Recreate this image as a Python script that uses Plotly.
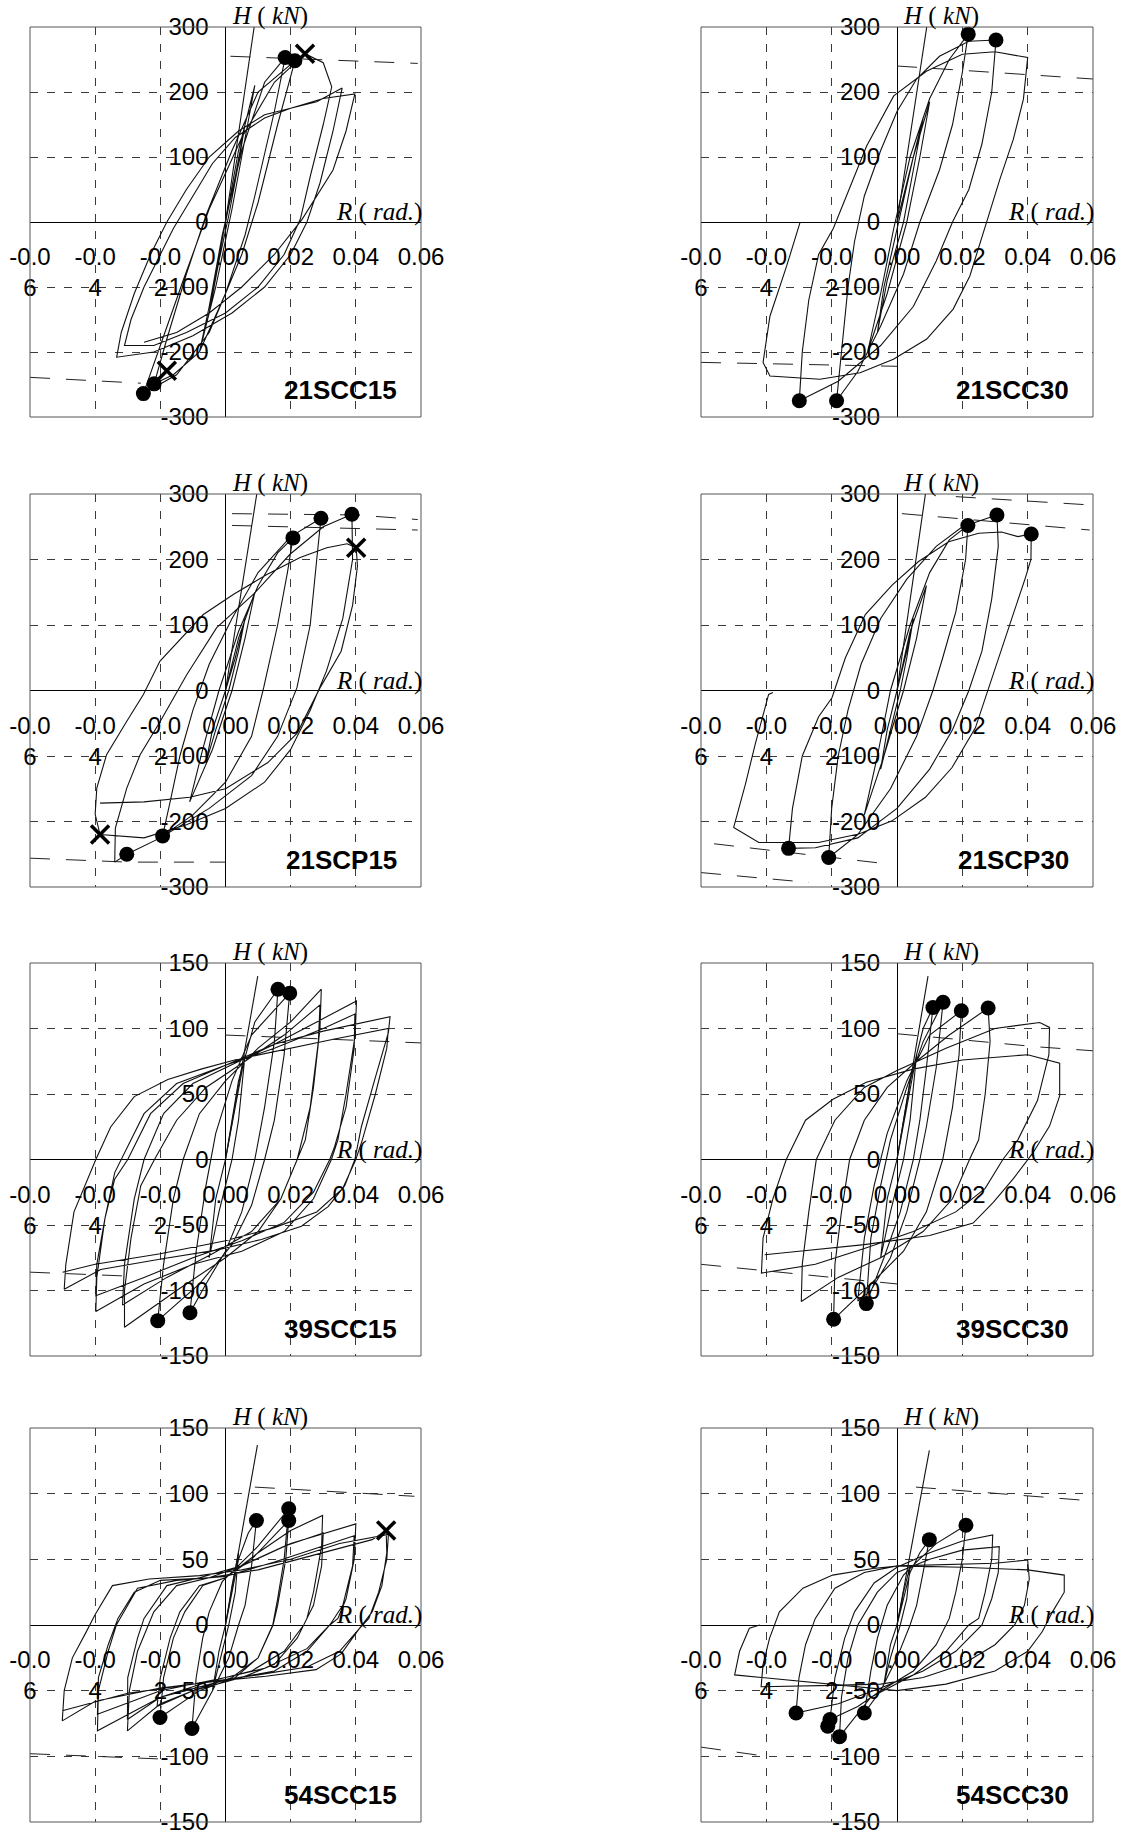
import plotly.graph_objects as go

# ---------------- data ----------------
PANEL_NAMES = ["21SCC15", "21SCC30", "21SCP15", "21SCP30",
               "39SCC15", "39SCC30", "54SCC15", "54SCC30"]
H_LIMITS = [300, 300, 300, 300, 150, 150, 150, 150]

X_TICKS = [-0.06, -0.04, -0.02, 0.0, 0.02, 0.04, 0.06]
X_TICKTEXT = ["-0.0<br>6", "-0.0<br>4", "-0.0<br>2", "0.00", "0.02", "0.04", "0.06"]
Y_TICKS_300 = [-300, -200, -100, 0, 100, 200, 300]
Y_TICKTEXT_300 = ["-300", "-200", "-100", "0", "100", "200", "300"]
Y_TICKS_150 = [-150, -100, -50, 0, 50, 100, 150]
Y_TICKTEXT_150 = ["-150", "-100", "-50", "0", "50", "100", "150"]

# ---- 21SCC15 ----
R_21SCC15 = [0, 0.003, 0.006, 0.004, 0.001, -0.002, -0.005, -0.003, 0.0,
             0.004, 0.009, 0.006, 0.002, -0.003, -0.008, -0.005, -0.001,
             0.005, 0.012, 0.0183,
             0.015, 0.009, 0.006, 0.0, -0.008, -0.016, -0.0219,
             -0.018, -0.012, -0.006, 0.002, 0.01, 0.0213,
             0.016, 0.010, 0.005, -0.005, -0.015, -0.0252,
             -0.020, -0.013, -0.005, 0.005, 0.015, 0.0244,
             0.030, 0.0326,
             0.030, 0.026, 0.023, 0.018, 0.010, 0.0, -0.012, -0.022, -0.031,
             -0.029, -0.025, -0.020, -0.016, -0.010, -0.004, 0.003, 0.012, 0.020, 0.028, 0.0358,
             0.033, 0.029, 0.025, 0.020, 0.012, 0.002, -0.010, -0.022, -0.0334,
             -0.032, -0.028, -0.023, -0.018, -0.012, -0.005, 0.004, 0.012, 0.020, 0.030, 0.0397,
             0.037, 0.033, 0.0235, 0.015, 0.005, -0.005, -0.015, -0.025]
H_21SCC15 = [0, 70, 150, 90, 10, -60, -140, -80, 0,
             110, 210, 130, 20, -100, -200, -130, -20,
             110, 215, 253,
             170, 40, -20, -110, -200, -235, -249,
             -180, -80, 10, 110, 200, 248,
             150, 30, -50, -170, -235, -264,
             -190, -90, 20, 130, 215, 259,
             245, 208,
             150, 70, 5, -50, -100, -140, -170, -190, -190,
             -150, -100, -50, -10, 40, 90, 130, 160, 175, 185, 206,
             140, 60, 0, -50, -100, -140, -175, -200, -208,
             -170, -110, -50, 0, 50, 100, 140, 165, 175, 190, 197,
             140, 80, 4, -50, -100, -140, -170, -185]
DOT_R_21SCC15 = [0.0183, 0.0213, -0.0252, -0.0219]
DOT_H_21SCC15 = [253, 248, -264, -249]
CROSS_R_21SCC15 = [0.0244, -0.018]
CROSS_H_21SCC15 = [259, -229]
ELASTIC_R_21SCC15 = [0.0, 0.0088]
ELASTIC_H_21SCC15 = [0, 300]
STRENGTH_21SCC15 = [([0.0015, 0.03, 0.059], [255, 250, 244]),
                    ([-0.06, -0.026], [-239, -248])]

# ---- 21SCC30 ----
R_21SCC30 = [0, 0.004, 0.008, 0.005, 0.002, -0.003, -0.006, -0.004, 0.0,
             0.005, 0.010, 0.007, 0.003, -0.003, -0.009, -0.005, -0.001,
             0.004, 0.010, 0.016, 0.0218,
             0.020, 0.017, 0.013, 0.007, 0.002, -0.005, -0.012, -0.0185,
             -0.017, -0.015, -0.013, -0.010, -0.005, 0.0, 0.006, 0.013, 0.022, 0.0303,
             0.029, 0.026, 0.022, 0.017, 0.012, 0.005, -0.005, -0.018, -0.0299,
             -0.029, -0.027, -0.024, -0.0195, -0.0144, -0.0093, -0.001, 0.009, 0.020, 0.030, 0.040,
             0.0387, 0.0356, 0.0315, 0.028, 0.0223, 0.0172, 0.0091, -0.0011, -0.0113, -0.0236, -0.0389, -0.041,
             -0.0389, -0.0338, -0.0297]
H_21SCC30 = [0, 80, 160, 80, 0, -90, -170, -100, -10,
             100, 185, 100, 0, -110, -200, -110, -10,
             100, 190, 250, 289,
             230, 150, 80, 0, -80, -160, -230, -275,
             -200, -100, -30, 40, 110, 170, 220, 255, 278, 280,
             200, 120, 50, 0, -60, -130, -190, -245, -275,
             -200, -120, -50, -10, 55, 117, 194, 232, 258, 262, 253,
             189, 127, 66, 9, -83, -134, -180, -211, -232, -242, -237, -216,
             -145, -68, -1]
DOT_R_21SCC30 = [0.0218, 0.0303, -0.0299, -0.0185]
DOT_H_21SCC30 = [289, 280, -275, -275]
CROSS_R_21SCC30 = []
CROSS_H_21SCC30 = []
ELASTIC_R_21SCC30 = [0.0, 0.0091]
ELASTIC_H_21SCC30 = [0, 300]
STRENGTH_21SCC30 = [([0.0, 0.015, 0.043, 0.06], [240, 235, 225, 220]),
                    ([-0.06, -0.03, 0.0], [-216, -219, -222])]

# ---- 21SCP15 ----
R_21SCP15 = [0, 0.003, 0.006, 0.004, 0.001, -0.003, -0.006, -0.004, 0.0,
             0.004, 0.009, 0.006, 0.002, -0.004, -0.011, -0.007, -0.002,
             0.004, 0.010, 0.016, 0.0207,
             0.019, 0.016, 0.0117, 0.008, 0.0, -0.010, -0.0193,
             -0.017, -0.014, -0.010, -0.005, 0.002, 0.010, 0.020, 0.0293,
             0.028, 0.026, 0.0219, 0.016, 0.008, -0.005, -0.020, -0.0303, -0.034,
             -0.0338, -0.0303, -0.0262, -0.020, -0.0119, -0.0027, 0.0086, 0.0198, 0.030, 0.0388,
             0.039, 0.036, 0.031, 0.026, 0.020, 0.012, 0.0, -0.012, -0.025, -0.0385,
             -0.040, -0.0395, -0.0365, -0.0303, -0.0252, -0.0201, -0.0068, 0.0025, 0.0127, 0.0229, 0.0311, 0.0373, 0.0401,
             0.0405, 0.039, 0.0355, 0.029, 0.022, 0.013, 0.0, -0.011, -0.025, -0.0385]
H_21SCP15 = [0, 50, 110, 60, 0, -60, -110, -60, 0,
             80, 150, 80, 0, -90, -170, -90, 0,
             90, 160, 210, 233,
             180, 100, 4, -70, -140, -190, -222,
             -170, -100, -30, 40, 110, 180, 235, 263,
             200, 100, 4, -70, -130, -180, -225, -250, -262,
             -210, -149, -98, -47, 24, 96, 147, 208, 250, 269,
             200, 110, 30, -30, -90, -140, -180, -205, -225, -220,
             -189, -149, -98, -47, -6, 45, 116, 147, 177, 203, 218, 224, 218,
             190, 130, 60, 4, -65, -110, -150, -163, -170, -172]
DOT_R_21SCP15 = [0.0207, 0.0293, 0.0388, -0.0303, -0.0193]
DOT_H_21SCP15 = [233, 263, 269, -250, -222]
CROSS_R_21SCP15 = [0.0401, -0.0385]
CROSS_H_21SCP15 = [218, -220]
ELASTIC_R_21SCP15 = [0.0, 0.0096]
ELASTIC_H_21SCP15 = [0, 300]
STRENGTH_21SCP15 = [([0.002, 0.04, 0.059], [270, 268, 261]),
                    ([0.002, 0.059], [252, 245]),
                    ([-0.06, -0.03, 0.0], [-256, -262, -262])]

# ---- 21SCP30 ----
R_21SCP30 = [0, 0.003, 0.005, 0.003, 0.001, -0.002, -0.005, -0.003, 0.0,
             0.004, 0.009, 0.006, 0.002, -0.004, -0.010, -0.006, -0.002,
             0.004, 0.010, 0.016, 0.0217,
             0.021, 0.018, 0.014, 0.011, 0.006, -0.002, -0.012, -0.0209,
             -0.020, -0.018, -0.015, -0.011, -0.005, 0.003, 0.012, 0.020, 0.0306,
             0.031, 0.029, 0.026, 0.022, 0.017, 0.010, 0.0, -0.012, -0.025, -0.0332,
             -0.032, -0.029, -0.024, -0.0199, -0.0158, -0.0097, -0.0015, 0.0066, 0.0158, 0.025, 0.032, 0.037, 0.0411,
             0.041, 0.0393, 0.0352, 0.0301, 0.028, 0.024, 0.0168, 0.0087, -0.0015, -0.0117, -0.024, -0.0423, -0.050,
             -0.0464, -0.0434, -0.0393, -0.038]
H_21SCP30 = [0, 60, 110, 50, 0, -60, -120, -60, 0,
             90, 160, 80, 0, -100, -190, -100, 0,
             100, 180, 230, 252,
             200, 120, 50, 0, -70, -150, -220, -255,
             -180, -100, -30, 40, 110, 170, 220, 250, 268,
             220, 140, 60, 0, -60, -120, -180, -225, -240, -241,
             -180, -100, -40, -11, 50, 116, 161, 197, 227, 240, 242, 235, 239,
             200, 172, 111, 35, 4, -57, -118, -163, -199, -219, -232, -232, -209,
             -143, -82, -6, -3]
DOT_R_21SCP30 = [0.0217, 0.0306, 0.0411, -0.0332, -0.0209]
DOT_H_21SCP30 = [252, 268, 239, -241, -255]
CROSS_R_21SCP30 = []
CROSS_H_21SCP30 = []
ELASTIC_R_21SCP30 = [0.0, 0.0087]
ELASTIC_H_21SCP30 = [0, 300]
STRENGTH_21SCP30 = [([0.018, 0.06], [296, 283]),
                    ([0.0015, 0.059], [270, 245]),
                    ([-0.06, -0.027], [-278, -293]),
                    ([-0.056, -0.0025], [-234, -265])]

# ---- 39SCC15 ----
R_39SCC15 = [0, 0.003, 0.006, 0.004, 0.002, -0.002, -0.005, -0.003, 0.0,
             0.004, 0.009, 0.0161,
             0.015, 0.012, 0.009, 0.005, 0.0, -0.006, -0.0109,
             -0.009, -0.006, -0.003, 0.002, 0.008, 0.0197,
             0.018, 0.015, 0.012, 0.008, 0.002, -0.008, -0.0208,
             -0.019, -0.016, -0.013, -0.008, 0.0, 0.01, 0.02, 0.0294,
             0.029, 0.027, 0.0245, 0.022, 0.017, 0.01, 0.0, -0.015, -0.031,
             -0.031, -0.029, -0.026, -0.0218, -0.015, -0.006, 0.006, 0.018, 0.029,
             0.0285, 0.026, 0.022, 0.017, 0.008, -0.004, -0.018, -0.0316,
             -0.031, -0.028, -0.025, -0.019, -0.01, 0.0, 0.015, 0.028, 0.0402,
             0.0398, 0.037, 0.0345, 0.0325, 0.027, 0.018, 0.005, -0.01, -0.025, -0.0398,
             -0.0395, -0.037, -0.034, -0.030, -0.023, -0.013, 0.0, 0.015, 0.03, 0.0397,
             0.0395, 0.037, 0.0335, 0.032, 0.027, 0.018, 0.005, -0.01, -0.025, -0.0398,
             -0.0395, -0.037, -0.034, -0.032, -0.025, -0.015, 0.0, 0.015, 0.03, 0.0505,
             0.05, 0.0458, 0.0417, 0.0397, 0.0366, 0.0315, 0.0233, 0.011, -0.0024, -0.0198, -0.0383, -0.0495,
             -0.049, -0.0465, -0.0398, -0.0352, -0.028, -0.0177, -0.0075, 0.0028, 0.018, 0.0335, 0.05,
             0.0495, 0.046, 0.042, 0.04, 0.036, 0.028, 0.015, 0.0, -0.02, -0.04, -0.05]
H_39SCC15 = [0, 40, 80, 30, 0, -40, -75, -30, 0,
             60, 105, 130,
             90, 40, 0, -40, -70, -95, -117,
             -70, -20, 20, 60, 95, 127,
             80, 30, 0, -35, -65, -95, -123,
             -80, -30, 0, 35, 60, 85, 105, 130,
             100, 55, 15, 0, -30, -55, -75, -100, -128,
             -100, -60, -20, 0, 30, 55, 75, 95, 118,
             90, 40, 0, -30, -55, -72, -90, -111,
             -80, -30, 0, 35, 58, 70, 88, 105, 121,
             95, 50, 15, 0, -30, -55, -70, -80, -95, -116,
             -90, -45, -15, 0, 35, 58, 72, 85, 100, 111,
             85, 40, 10, 0, -25, -48, -62, -75, -90, -104,
             -80, -45, -10, 0, 35, 58, 72, 88, 98, 109,
             97, 61, 25, 0, -20, -36, -51, -61, -69, -76, -84, -99,
             -80, -40, 0, 25, 48, 61, 69, 76, 84, 92, 100,
             85, 50, 15, 0, -22, -40, -52, -62, -72, -80, -86]
DOT_R_39SCC15 = [0.0161, 0.0197, -0.0208, -0.0109]
DOT_H_39SCC15 = [130, 127, -123, -117]
CROSS_R_39SCC15 = []
CROSS_H_39SCC15 = []
ELASTIC_R_39SCC15 = [0.0, 0.0099]
ELASTIC_H_39SCC15 = [0, 140]
STRENGTH_39SCC15 = [([0.0, 0.06], [95, 89]),
                    ([-0.06, -0.03], [-86, -89])]

# ---- 39SCC30 ----
R_39SCC30 = [0, 0.003, 0.006, 0.004, 0.002, -0.002, -0.005, -0.003, 0.0,
             0.004, 0.008, 0.011,
             0.009, 0.007, 0.005, 0.001, -0.004, -0.0094,
             -0.008, -0.005, -0.002, 0.003, 0.008, 0.0141,
             0.012, 0.009, 0.007, 0.003, -0.002, -0.008, -0.012,
             -0.010, -0.007, -0.003, 0.003, 0.01, 0.0197,
             0.019, 0.017, 0.014, 0.009, 0.002, -0.008, -0.0194,
             -0.019, -0.017, -0.0145, -0.01, -0.003, 0.006, 0.016, 0.0279,
             0.0285, 0.027, 0.025, 0.0222, 0.017, 0.008, -0.005, -0.018, -0.0293,
             -0.029, -0.027, -0.0247, -0.019, -0.01, 0.0, 0.015, 0.03, 0.0437, 0.0467,
             0.0465, 0.043, 0.037, 0.0324, 0.027, 0.018, 0.005, -0.01, -0.025, -0.0415,
             -0.041, -0.038, -0.0339, -0.028, -0.0196, -0.0094, 0.0049, 0.02, 0.04, 0.0498,
             0.0498, 0.0467, 0.0416, 0.0355, 0.0294, 0.0233, 0.01, -0.01, -0.03, -0.0405]
H_39SCC30 = [0, 40, 80, 30, 0, -40, -75, -30, 0,
             60, 100, 116,
             70, 30, 0, -40, -75, -110,
             -60, -20, 15, 55, 90, 120,
             70, 25, 0, -40, -75, -100, -108,
             -60, -20, 20, 60, 95, 113.5,
             80, 40, 0, -40, -70, -95, -122,
             -80, -40, 0, 30, 55, 75, 95, 115.6,
             90, 50, 15, 0, -30, -55, -75, -90, -108.4,
             -80, -40, 0, 30, 55, 68, 85, 100, 104.6, 100.8,
             80, 45, 15, 0, -22, -40, -55, -68, -80, -86.7,
             -60, -30, 0, 30, 46, 59, 69, 76, 80, 73.5,
             48.5, 25.5, 5, -15, -33, -48.5, -58, -65, -70, -72.7]
DOT_R_39SCC30 = [0.011, 0.0141, 0.0197, 0.0279, -0.0094, -0.0194]
DOT_H_39SCC30 = [116, 120, 113.5, 115.6, -110, -122]
CROSS_R_39SCC30 = []
CROSS_H_39SCC30 = []
ELASTIC_R_39SCC30 = [0.0, 0.0095]
ELASTIC_H_39SCC30 = [0, 140]
STRENGTH_39SCC30 = [([0.0, 0.043, 0.06], [96, 86, 83]),
                    ([-0.06, -0.0435, 0.0], [-80, -84, -95])]

# ---- 54SCC15 ----
R_54SCC15 = [0, 0.002, 0.004, 0.003, 0.001, -0.002, -0.004, -0.002, 0.0,
             0.004, 0.007, 0.0095,
             0.008, 0.006, 0.004, 0.001, -0.004, -0.0103,
             -0.009, -0.007, -0.005, -0.001, 0.004, 0.01, 0.0194,
             0.018, 0.016, 0.0145, 0.01, 0.003, -0.008, -0.0201,
             -0.019, -0.016, -0.0125, -0.007, 0.0, 0.008, 0.0194,
             0.0185, 0.016, 0.0146, 0.01, 0.002, -0.01, -0.021,
             -0.02, -0.017, -0.014, -0.008, 0.0, 0.01, 0.02, 0.0298,
             0.0295, 0.027, 0.025, 0.022, 0.015, 0.005, -0.01, -0.02, -0.0301,
             -0.0295, -0.027, -0.0245, -0.022, -0.015, -0.005, 0.005, 0.018, 0.03,
             0.0295, 0.027, 0.024, 0.018, 0.008, -0.005, -0.02, -0.0301,
             -0.03, -0.027, -0.025, -0.018, -0.008, 0.005, 0.02, 0.04,
             0.0395, 0.037, 0.0345, 0.032, 0.025, 0.015, 0.0, -0.02, -0.0393,
             -0.039, -0.036, -0.0335, -0.027, -0.015, 0.0, 0.015, 0.03, 0.0395,
             0.039, 0.036, 0.032, 0.025, 0.012, 0.0, -0.02, -0.0393,
             -0.039, -0.036, -0.033, -0.028, -0.02, -0.005, 0.01, 0.03, 0.045, 0.0493,
             0.0495, 0.048, 0.045, 0.041, 0.0355, 0.0278, 0.0124, 0.0, -0.02, -0.04, -0.0501,
             -0.0495, -0.047, -0.0429, -0.040, -0.0347, -0.0234, -0.008, 0.005, 0.02, 0.035, 0.05,
             0.0495, 0.047, 0.044, 0.041, 0.035, 0.025, 0.01, -0.01, -0.03, -0.0501]
H_54SCC15 = [0, 30, 55, 25, 0, -30, -50, -20, 0,
             50, 70, 79.6,
             45, 15, 0, -25, -50, -78.8,
             -40, -10, 10, 33, 45, 60, 88.5,
             50, 20, 0, -25, -40, -50, -70.4,
             -40, -10, 10, 30, 36, 50, 79.6,
             50, 15, 0, -25, -40, -50, -62,
             -40, -10, 10, 30, 36, 55, 72, 83.4,
             60, 25, 5, -10, -30, -40, -50, -60, -80.6,
             -50, -20, -5, 10, 30, 36, 45, 60, 70,
             45, 15, 0, -20, -35, -43, -55, -72,
             -40, -10, 5, 30, 36, 45, 62, 77,
             50, 20, 5, 0, -20, -35, -42, -55, -80.6,
             -50, -20, 0, 28, 34, 37, 48, 60, 68,
             45, 15, 0, -18, -33, -40, -50, -68,
             -40, -15, 5, 25, 34, 36, 42, 55, 65, 72,
             55, 30, 10, -3, -22, -34, -39, -42, -48, -58, -73,
             -50, -25, -6, 8, 30, 35, 37.6, 42, 50, 62, 69,
             50, 25, 5, -3, -20, -32, -38, -45, -52, -65.3]
DOT_R_54SCC15 = [0.0095, 0.0194, 0.0194, -0.0201, -0.0103]
DOT_H_54SCC15 = [79.6, 88.5, 79.6, -70.4, -78.8]
CROSS_R_54SCC15 = [0.0493]
CROSS_H_54SCC15 = [72]
ELASTIC_R_54SCC15 = [0.0, 0.0098]
ELASTIC_H_54SCC15 = [0, 137]
STRENGTH_54SCC15 = [([0.009, 0.058], [105, 98]),
                    ([-0.06, -0.02], [-98, -102])]

# ---- 54SCC30 ----
R_54SCC30 = [0, 0.002, 0.004, 0.003, 0.001, -0.002, -0.004, -0.002, 0.0,
             0.004, 0.007, 0.0099,
             0.008, 0.006, 0.004, 0.0, -0.005, -0.01,
             -0.008, -0.006, -0.003, 0.002, 0.006, 0.012, 0.0211,
             0.020, 0.018, 0.016, 0.012, 0.005, -0.005, -0.012, -0.0205,
             -0.019, -0.016, -0.013, -0.007, 0.0, 0.01, 0.02, 0.0293,
             0.029, 0.027, 0.025, 0.022, 0.015, 0.005, -0.008, -0.0176,
             -0.017, -0.015, -0.012, -0.006, 0.0, 0.01, 0.02, 0.0313,
             0.031, 0.029, 0.026, 0.018, 0.008, -0.005, -0.018, -0.0309,
             -0.030, -0.028, -0.025, -0.019, -0.01, 0.0, 0.015, 0.03, 0.04,
             0.0405, 0.039, 0.036, 0.03, 0.02, 0.008, -0.005, -0.02, -0.0416,
             -0.041, -0.039, -0.036, -0.0288, -0.0197, -0.0074, 0.0007, 0.02, 0.04, 0.0512,
             0.0512, 0.0476, 0.0445, 0.04, 0.03, 0.015, 0.0, -0.02, -0.0497,
             -0.0482, -0.0452, -0.042]
H_54SCC30 = [0, 25, 45, 20, 0, -25, -45, -15, 0,
             40, 55, 65,
             40, 15, 0, -25, -50, -67,
             -35, -10, 15, 38, 48, 62, 76,
             50, 25, 5, -15, -35, -50, -62, -72,
             -40, -10, 10, 32, 44, 55, 64, 68.5,
             50, 25, 5, 0, -20, -38, -55, -85,
             -55, -25, 0, 25, 40, 50, 57, 59.6,
             40, 20, 0, -20, -35, -48, -60, -67,
             -40, -15, 5, 28, 40, 45, 46, 47, 49.5,
             35, 15, 0, -15, -30, -40, -45, -46, -47,
             -30, -10, 10, 28, 38, 43, 45, 44, 42, 38,
             25, 10, -5, -20, -35, -45, -50, -45, -38,
             -20, -2.5, 0]
DOT_R_54SCC30 = [0.0099, 0.0211, -0.0309, -0.0205, -0.0212, -0.0176, -0.01]
DOT_H_54SCC30 = [65, 76, -67, -72, -77, -85, -67]
CROSS_R_54SCC30 = []
CROSS_H_54SCC30 = []
ELASTIC_R_54SCC30 = [0.0, 0.0099]
ELASTIC_H_54SCC30 = [0, 133]
STRENGTH_54SCC30 = [([0.0058, 0.057], [105, 95]),
                    ([-0.06, -0.04], [-93, -100])]

PANEL_DATA = [
    (R_21SCC15, H_21SCC15, DOT_R_21SCC15, DOT_H_21SCC15, CROSS_R_21SCC15, CROSS_H_21SCC15,
     ELASTIC_R_21SCC15, ELASTIC_H_21SCC15, STRENGTH_21SCC15),
    (R_21SCC30, H_21SCC30, DOT_R_21SCC30, DOT_H_21SCC30, CROSS_R_21SCC30, CROSS_H_21SCC30,
     ELASTIC_R_21SCC30, ELASTIC_H_21SCC30, STRENGTH_21SCC30),
    (R_21SCP15, H_21SCP15, DOT_R_21SCP15, DOT_H_21SCP15, CROSS_R_21SCP15, CROSS_H_21SCP15,
     ELASTIC_R_21SCP15, ELASTIC_H_21SCP15, STRENGTH_21SCP15),
    (R_21SCP30, H_21SCP30, DOT_R_21SCP30, DOT_H_21SCP30, CROSS_R_21SCP30, CROSS_H_21SCP30,
     ELASTIC_R_21SCP30, ELASTIC_H_21SCP30, STRENGTH_21SCP30),
    (R_39SCC15, H_39SCC15, DOT_R_39SCC15, DOT_H_39SCC15, CROSS_R_39SCC15, CROSS_H_39SCC15,
     ELASTIC_R_39SCC15, ELASTIC_H_39SCC15, STRENGTH_39SCC15),
    (R_39SCC30, H_39SCC30, DOT_R_39SCC30, DOT_H_39SCC30, CROSS_R_39SCC30, CROSS_H_39SCC30,
     ELASTIC_R_39SCC30, ELASTIC_H_39SCC30, STRENGTH_39SCC30),
    (R_54SCC15, H_54SCC15, DOT_R_54SCC15, DOT_H_54SCC15, CROSS_R_54SCC15, CROSS_H_54SCC15,
     ELASTIC_R_54SCC15, ELASTIC_H_54SCC15, STRENGTH_54SCC15),
    (R_54SCC30, H_54SCC30, DOT_R_54SCC30, DOT_H_54SCC30, CROSS_R_54SCC30, CROSS_H_54SCC30,
     ELASTIC_R_54SCC30, ELASTIC_H_54SCC30, STRENGTH_54SCC30),
]

# ---------------- layout constants ----------------
W, HGT = 1122, 1834
COLS_PX = [(30, 421), (701, 1093)]
ROWS_PX = [(27, 417), (494, 887), (963, 1356), (1428, 1822)]

TICK_FONT = dict(family="Liberation Sans, Arial, sans-serif", size=24, color="black")
TITLE_FONT = dict(family="Liberation Serif, Times New Roman, serif", size=25, color="black")
NAME_FONT = dict(family="Liberation Sans, Arial, sans-serif", size=26, color="black")
GRID_COLOR = "#3a3a3a"
LINE_COLOR = "#111111"

fig = go.Figure()
layout = dict(width=W, height=HGT, autosize=False,
              margin=dict(l=0, r=0, t=0, b=0, pad=0, autoexpand=False),
              paper_bgcolor="white", plot_bgcolor="white",
              showlegend=False, shapes=[], annotations=[])

for i, name in enumerate(PANEL_NAMES):
    n = i + 1
    xs = "" if n == 1 else str(n)
    xa, ya = "x" + xs, "y" + xs
    col, row = i % 2, i // 2
    px0, px1 = COLS_PX[col]
    top, bot = ROWS_PX[row]
    xd = [px0 / W, px1 / W]
    yd = [1 - bot / HGT, 1 - top / HGT]
    lim = H_LIMITS[i]
    if lim == 300:
        yt, ytt = Y_TICKS_300, Y_TICKTEXT_300
    else:
        yt, ytt = Y_TICKS_150, Y_TICKTEXT_150

    layout["xaxis" + xs] = dict(
        domain=xd, range=[-0.06, 0.06], anchor="free", position=(yd[0] + yd[1]) / 2,
        automargin=False, ticklabeloverflow="allow",
        tickmode="array", tickvals=X_TICKS, ticktext=X_TICKTEXT, tickangle=0,
        showgrid=True, gridcolor=GRID_COLOR, gridwidth=1, griddash="8px,9px",
        zeroline=True, zerolinecolor="black", zerolinewidth=1,
        showline=False, ticks="", tickfont=TICK_FONT, ticklabelstandoff=18,
        fixedrange=True)
    layout["yaxis" + xs] = dict(
        domain=yd, range=[-lim, lim], anchor="free", position=(xd[0] + xd[1]) / 2,
        automargin=False, ticklabeloverflow="allow",
        tickmode="array", tickvals=yt, ticktext=ytt,
        showgrid=True, gridcolor=GRID_COLOR, gridwidth=1, griddash="8px,9px",
        zeroline=True, zerolinecolor="black", zerolinewidth=1,
        showline=False, ticks="", tickfont=TICK_FONT, ticklabelstandoff=17,
        fixedrange=True)

    (R, Hh, dr, dh, cr, ch, er, eh, strength) = PANEL_DATA[i]

    for sr, sh in strength:
        fig.add_trace(go.Scatter(x=sr, y=sh, mode="lines", xaxis=xa, yaxis=ya,
                                 line=dict(color="#222222", width=1, dash="20px,16px"),
                                 hoverinfo="skip"))
    fig.add_trace(go.Scatter(x=er, y=eh, mode="lines", xaxis=xa, yaxis=ya,
                             line=dict(color=LINE_COLOR, width=1.1), hoverinfo="skip"))
    fig.add_trace(go.Scatter(x=R, y=Hh, mode="lines", xaxis=xa, yaxis=ya,
                             line=dict(color=LINE_COLOR, width=1.1), hoverinfo="skip"))
    if dr:
        fig.add_trace(go.Scatter(x=dr, y=dh, mode="markers", xaxis=xa, yaxis=ya,
                                 marker=dict(size=15, color="black"), hoverinfo="skip",
                                 cliponaxis=False))
    if cr:
        fig.add_trace(go.Scatter(x=cr, y=ch, mode="markers", xaxis=xa, yaxis=ya,
                                 marker=dict(size=18, symbol="x-thin",
                                             line=dict(width=3.5, color="black")),
                                 hoverinfo="skip", cliponaxis=False))

    layout["shapes"].append(dict(type="rect", xref=xa + " domain", yref=ya + " domain",
                                 x0=0, y0=0, x1=1, y1=1,
                                 line=dict(color="#555555", width=1), layer="above"))
    layout["annotations"].append(dict(
        text="<i>H</i> ( <i>kN</i>)", xref=xa + " domain", yref=ya + " domain",
        x=0.5, y=1, xanchor="left", yanchor="middle", xshift=4, yshift=11,
        showarrow=False, font=TITLE_FONT))
    layout["annotations"].append(dict(
        text="<i>R</i> ( <i>rad.</i>)", xref=xa + " domain", yref=ya + " domain",
        x=1, y=0.5, xanchor="right", yanchor="middle", xshift=3, yshift=10,
        showarrow=False, font=TITLE_FONT))
    layout["annotations"].append(dict(
        text="<b>" + name + "</b>", xref=xa + " domain", yref=ya + " domain",
        x=1, y=0, xanchor="right", yanchor="middle", xshift=-22, yshift=27,
        showarrow=False, font=NAME_FONT))

fig.update_layout(**layout)
fig.write_html("out.html", post_script="document.body.style.margin='0px';",
               config={"displayModeBar": False})
